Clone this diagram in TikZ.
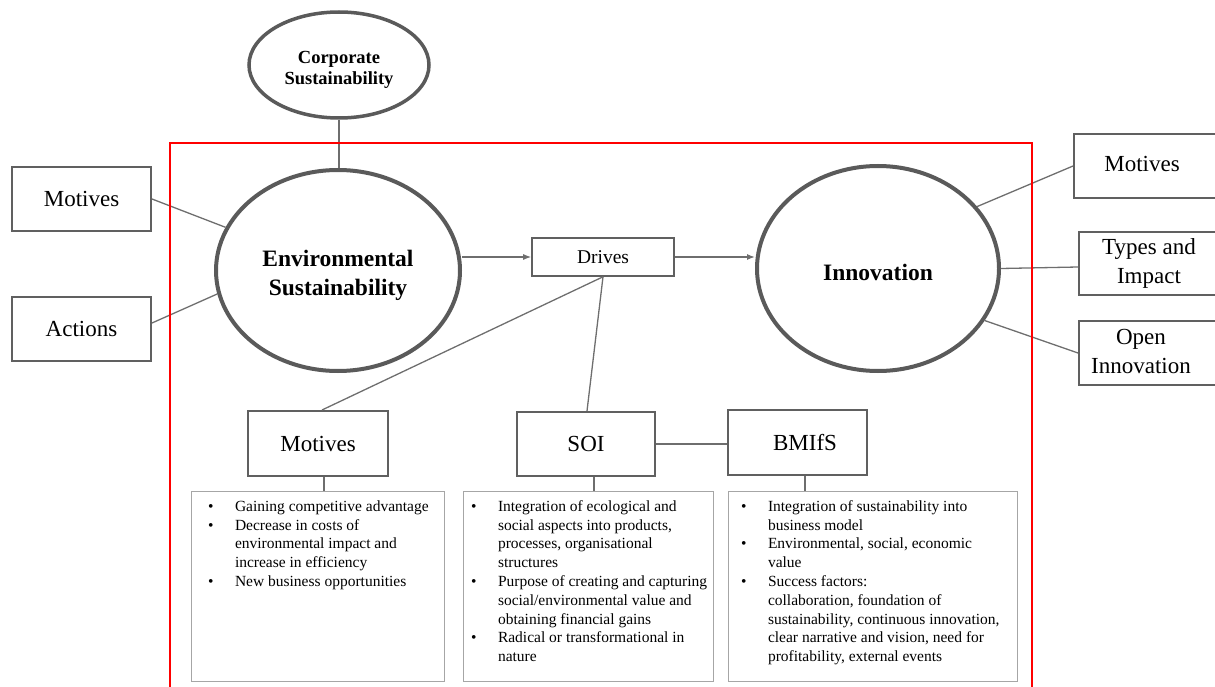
\documentclass[tikz,border=0pt]{standalone}
\usepackage{fontspec}
\setmainfont{Liberation Serif}
\usetikzlibrary{shapes.geometric,arrows.meta}
\definecolor{ellgray}{HTML}{5A5A5A}
\definecolor{boxgray}{HTML}{606060}
\definecolor{lingray}{HTML}{6E6E6E}
\definecolor{tbgray}{HTML}{A6A6A6}
\definecolor{framered}{HTML}{FF0000}
\newenvironment{blist}{\begin{list}{\textbullet}{%
  \setlength{\leftmargin}{27pt}\setlength{\labelwidth}{10pt}%
  \setlength{\labelsep}{17pt}\setlength{\itemsep}{0pt}%
  \setlength{\parsep}{0pt}\setlength{\topsep}{0pt}%
  \setlength{\partopsep}{0pt}\setlength{\rightmargin}{0pt}%
  \renewcommand{\makelabel}[1]{##1\hfil}}}{\end{list}}
\newcommand{\tbtext}[2]{\makebox[#1][l]{\begin{minipage}[t][176pt][t]{\dimexpr#1+40pt\relax}\fontsize{15.5}{18.8}\selectfont\raggedright #2\end{minipage}}}
\begin{document}
\begin{tikzpicture}[x=1pt,y=-1pt,
  ell/.style={ellipse,draw=ellgray,fill=white,inner sep=0pt,align=center},
  bx/.style={rectangle,draw=boxgray,line width=2pt,fill=white,inner sep=0pt,align=center,font=\fontsize{23}{29}\selectfont},
  tb/.style={rectangle,draw=tbgray,line width=1pt,anchor=north west,inner ysep=7.2pt},
  conn/.style={draw=lingray,line width=1.3pt},
  arr/.style={conn,-{Latex[length=8pt,width=6pt]}}]
\useasboundingbox (0,0) rectangle (1215,687);
\clip (0,0) rectangle (1215,687);

% ellipses
\node[ell,line width=3.5pt,minimum width=180pt,minimum height=106pt,font=\bfseries\fontsize{18.5}{21}\selectfont] (corp) at (339,65) {\rule{0pt}{21pt}Corporate\\Sustainability};
\node[ell,line width=4pt,minimum width=244pt,minimum height=201pt,font=\bfseries\fontsize{23.5}{29}\selectfont] (env) at (338,270.5) {\rule{0pt}{26pt}Environmental\\Sustainability};
\node[ell,line width=4pt,minimum width=242pt,minimum height=205pt,font=\bfseries\fontsize{23.5}{29}\selectfont] (inn) at (878,268.5) {\rule{0pt}{24pt}Innovation};

% side boxes
\node[bx,minimum width=139pt,minimum height=64pt] (lmot) at (81.5,199) {Motives};
\node[bx,minimum width=139pt,minimum height=64pt] (act) at (81.5,329) {Actions};
\node[bx,minimum width=160pt,minimum height=64pt] (rmot) at (1154,166) {\begin{tabular}{@{}c@{}}Motives\end{tabular}\hspace*{24pt}};
\node[bx,minimum width=155pt,minimum height=63pt] (typ) at (1156.5,263.5) {\begin{tabular}{@{}c@{}}Types and\\Impact\end{tabular}\hspace*{15pt}};
\node[bx,minimum width=155pt,minimum height=64pt] (opn) at (1156.5,353) {\begin{tabular}{@{}c@{}}Open\\Innovation\end{tabular}\hspace*{31pt}};

% middle boxes
\node[bx,line width=1.6pt,minimum width=142pt,minimum height=38pt,font=\fontsize{19.5}{23}\selectfont] (drv) at (603,257) {Drives};
\node[bx,minimum width=140pt,minimum height=65pt] (mmot) at (318,443.5) {Motives};
\node[bx,minimum width=138pt,minimum height=64pt] (soi) at (586,444) {SOI};
\node[bx,minimum width=139pt,minimum height=65pt] (bmf) at (797.5,442.5) {\hspace*{15pt}BMIfS};

% text boxes
\node[tb,inner xsep=17pt] (tb1) at (190.5,490.5) {\tbtext{219pt}{%
\begin{blist}
\item\strut Gaining competitive advantage
\item Decrease in costs of\\ environmental impact and\\ increase in efficiency
\item New business opportunities
\end{blist}}};
\node[tb,inner xsep=8pt] (tb2) at (462.5,490.5) {\tbtext{234pt}{%
\begin{blist}
\item\strut Integration of ecological and\\ social aspects into products,\\ processes, organisational\\ structures
\item Purpose of creating and capturing\\ social/environmental value and\\ obtaining financial gains
\item Radical or transformational in\\ nature
\end{blist}}};
\node[tb,inner xsep=13pt] (tb3) at (727.5,490.5) {\tbtext{263pt}{%
\begin{blist}
\item\strut Integration of sustainability into\\ business model
\item Environmental, social, economic\\ value
\item Success factors:\\ collaboration, foundation of\\ sustainability, continuous innovation,\\ clear narrative and vision, need for\\ profitability, external events
\end{blist}}};

% connectors
\draw[conn] (corp.south) -- (corp.south |- env.north);
\draw[conn] (lmot.east) -- (env.159);
\draw[conn] ([yshift=6pt]act.east) -- (env.191);
\draw[conn] (inn.32) -- (rmot.west);
\draw[conn] (inn.east) -- ([yshift=-3.5pt]typ.west);
\draw[conn] (inn.334) -- (opn.west);
\draw[arr] (env.east |- drv.west) -- (drv.west);
\draw[arr] (drv.east) -- (inn.west |- drv.east);
\draw[conn] (drv.south) -- ([xshift=4pt]mmot.north);
\draw[conn] (drv.south) -- ([xshift=1pt]soi.north);
\draw[conn] (soi.east) -- (soi.east -| bmf.west);
\coordinate (m1) at ([xshift=6pt]mmot.south);
\coordinate (m2) at ([xshift=8pt]soi.south);
\coordinate (m3) at ([xshift=7.5pt]bmf.south);
\draw[conn] (m1) -- (m1 |- tb1.north);
\draw[conn] (m2) -- (m2 |- tb2.north);
\draw[conn] (m3) -- (m3 |- tb3.north);

% red frame
\draw[framered,line width=2pt] (170,143) rectangle (1032,700);
\end{tikzpicture}
\end{document}
